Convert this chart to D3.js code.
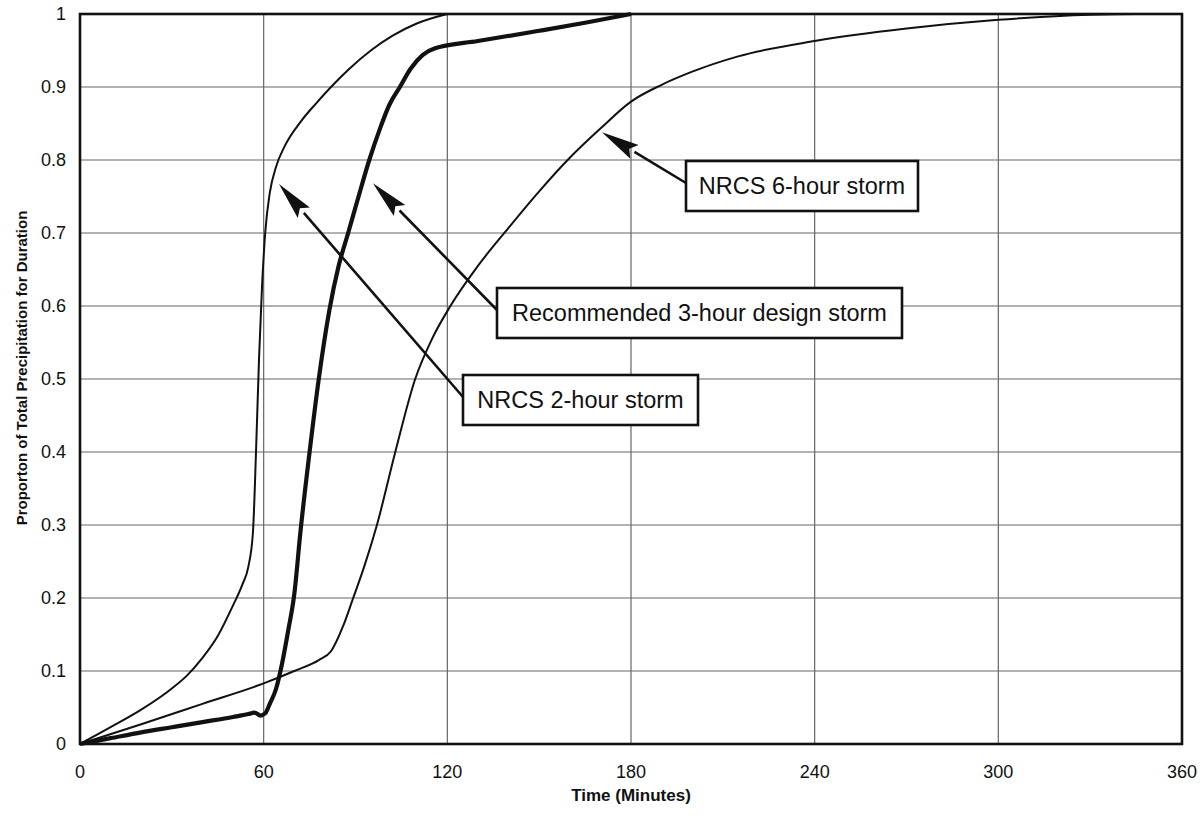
<!DOCTYPE html>
<html lang="en">
<head>
  <meta charset="utf-8">
  <title>Design storm distributions</title>
  <script src="https://d3js.org/d3.v7.min.js"></script>
  <style>
    body {
      margin: 0;
      background: #fff;
      font-family: Arial, "Liberation Sans", sans-serif;
    }
  </style>
</head>
<body>
  <svg width="1204" height="816"></svg>

  <script>
  // ---- data (minutes, proportion of total precipitation) ----
  const twoHourT = [0, 10, 20, 30, 35, 40, 45, 50, 53, 55, 56.5, 57.5, 58.5, 59.5, 60.5, 62, 64, 67, 72, 77, 82, 88, 95, 102, 110, 120];
  const twoHourV = [0, 0.023, 0.047, 0.076, 0.094, 0.118, 0.148, 0.19, 0.218, 0.243, 0.29, 0.40, 0.53, 0.63, 0.70, 0.755, 0.79, 0.82, 0.852, 0.877, 0.90, 0.925, 0.95, 0.97, 0.987, 1.0];

  const threeHourT = [0, 10, 20, 30, 40, 50, 55, 57, 59, 60.5, 62, 64, 66, 68, 70, 72, 75, 78, 81.5, 84.5, 87.6, 91, 94.5, 98, 101, 104.5, 108, 112, 116, 130, 150, 165, 180];
  const threeHourV = [0, 0.008, 0.016, 0.023, 0.03, 0.037, 0.041, 0.043, 0.039, 0.042, 0.055, 0.075, 0.11, 0.155, 0.205, 0.29, 0.40, 0.50, 0.595, 0.655, 0.70, 0.75, 0.80, 0.843, 0.875, 0.90, 0.925, 0.944, 0.953, 0.963, 0.977, 0.988, 1.0];

  const sixHourT = [0, 20, 40, 60, 70, 78, 82, 86, 89, 93, 97, 103, 109.5, 115, 121, 130, 140, 150, 160, 170, 180, 190, 200, 215, 240, 270, 300, 330, 345, 360];
  const sixHourV = [0, 0.027, 0.055, 0.083, 0.1, 0.115, 0.127, 0.162, 0.197, 0.245, 0.3, 0.4, 0.5, 0.555, 0.6, 0.655, 0.707, 0.757, 0.803, 0.843, 0.88, 0.903, 0.921, 0.942, 0.963, 0.98, 0.992, 0.999, 1, 1];

  const xTicks = [0, 60, 120, 180, 240, 300, 360];
  const yTicks = [0, 0.1, 0.2, 0.3, 0.4, 0.5, 0.6, 0.7, 0.8, 0.9, 1];

  // annotation labels: text, arrow tip (minutes, proportion)
  const labels = ["NRCS 6-hour storm", "Recommended 3-hour design storm", "NRCS 2-hour storm"];
  const tipT = [170.5, 95.7, 65.0];
  const tipV = [0.838, 0.768, 0.767];

  const svg = d3.select("svg");
  const margin = {left: 80, right: 22, top: 14, bottom: 72};
  const width = 1204, height = 816;

  const x = d3.scaleLinear().domain([0, 360]).range([margin.left, width - margin.right]);
  const y = d3.scaleLinear().domain([0, 1]).range([height - margin.bottom, margin.top]);

  // grid
  svg.append("g")
    .selectAll("line")
    .data(xTicks.slice(1, -1))
    .enter().append("line")
    .attr("x1", d => x(d)).attr("x2", d => x(d))
    .attr("y1", y(0)).attr("y2", y(1))
    .attr("stroke", "#666").attr("stroke-width", 1.2);

  svg.append("g")
    .selectAll("line")
    .data(yTicks.slice(1, -1))
    .enter().append("line")
    .attr("x1", x(0)).attr("x2", x(360))
    .attr("y1", d => y(d)).attr("y2", d => y(d))
    .attr("stroke", "#666").attr("stroke-width", 1.2);

  // tick labels
  svg.append("g")
    .selectAll("text")
    .data(yTicks)
    .enter().append("text")
    .attr("x", x(0) - 14)
    .attr("y", d => y(d))
    .attr("dy", "0.36em")
    .attr("text-anchor", "end")
    .attr("font-size", 18)
    .attr("fill", "#111")
    .text(d => d === 0 || d === 1 ? d : d3.format(".1f")(d));

  svg.append("g")
    .selectAll("text")
    .data(xTicks)
    .enter().append("text")
    .attr("x", d => x(d))
    .attr("y", y(0) + 34)
    .attr("text-anchor", "middle")
    .attr("font-size", 18)
    .attr("fill", "#111")
    .text(d => d);

  // axis titles
  svg.append("text")
    .attr("x", 631)
    .attr("y", 801)
    .attr("text-anchor", "middle")
    .attr("font-size", 17)
    .attr("font-weight", "bold")
    .attr("fill", "#111")
    .text("Time (Minutes)");

  svg.append("text")
    .attr("transform", "translate(27,368) rotate(-90)")
    .attr("text-anchor", "middle")
    .attr("font-size", 15)
    .attr("font-weight", "bold")
    .attr("fill", "#111")
    .text("Proporton of Total Precipitation for Duration");

  // curves
  const line = d3.line()
    .x(d => x(d[0]))
    .y(d => y(d[1]))
    .curve(d3.curveMonotoneX);

  const series = [
    {t: twoHourT, v: twoHourV, w: 2},
    {t: threeHourT, v: threeHourV, w: 4.2},
    {t: sixHourT, v: sixHourV, w: 2}
  ];

  svg.selectAll(".curve")
    .data(series)
    .enter().append("path")
    .attr("class", "curve")
    .attr("d", d => line(d.t.map((t, i) => [t, d.v[i]])))
    .attr("fill", "none")
    .attr("stroke", "#111")
    .attr("stroke-width", d => d.w)
    .attr("stroke-linejoin", "round");

  // frame
  svg.append("rect")
    .attr("x", x(0)).attr("y", y(1))
    .attr("width", x(360) - x(0)).attr("height", y(0) - y(1))
    .attr("fill", "none")
    .attr("stroke", "#111")
    .attr("stroke-width", 2.6);

  // annotation boxes with arrows
  const boxX = [686, 497, 463];
  const boxY = [161, 288, 375];
  const boxW = [232, 405, 235];
  const boxH = 50;

  labels.forEach((txt, i) => {
    const g = svg.append("g");
    const x0 = boxX[i], y0 = boxY[i] + boxH / 2 - 3;
    const tx = x(tipT[i]), ty = y(tipV[i]);
    const ang = Math.atan2(ty - y0, tx - x0);
    const headLen = 38, headHalf = 8;
    const bx = tx - headLen * Math.cos(ang), by = ty - headLen * Math.sin(ang);
    g.append("line")
      .attr("x1", x0).attr("y1", y0)
      .attr("x2", bx).attr("y2", by)
      .attr("stroke", "#111").attr("stroke-width", 2.6);
    const px = -Math.sin(ang), py = Math.cos(ang);
    g.append("path")
      .attr("d", `M${tx},${ty}L${bx + px * headHalf},${by + py * headHalf}L${bx + 6 * Math.cos(ang)},${by + 6 * Math.sin(ang)}L${bx - px * headHalf},${by - py * headHalf}Z`)
      .attr("fill", "#111");

    g.append("rect")
      .attr("x", boxX[i]).attr("y", boxY[i])
      .attr("width", boxW[i]).attr("height", boxH)
      .attr("fill", "#fff")
      .attr("stroke", "#111")
      .attr("stroke-width", 2.6);
    g.append("text")
      .attr("x", boxX[i] + boxW[i] / 2)
      .attr("y", boxY[i] + boxH / 2)
      .attr("dy", "0.36em")
      .attr("text-anchor", "middle")
      .attr("font-size", 23.5)
      .attr("fill", "#111")
      .text(txt);
  });
</script>
</body>
</html>
